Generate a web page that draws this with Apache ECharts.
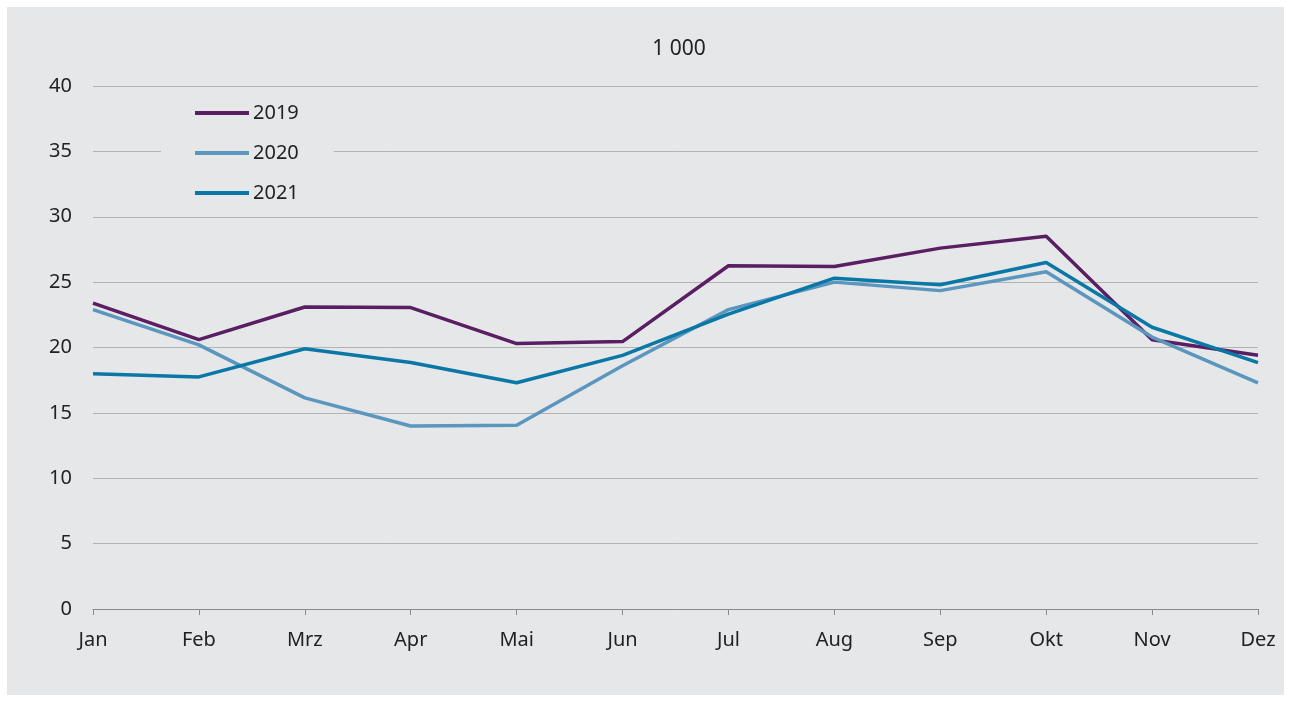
<!DOCTYPE html>
<html>
<head>
<meta charset="utf-8">
<script src="https://cdn.jsdelivr.net/npm/echarts@6/dist/echarts.min.js"></script>
<style>
  html, body { margin: 0; padding: 0; background: #fff; }
  #chart { position: absolute; left: 7px; top: 7px; width: 1277px; height: 688px; background: #e6e7e9; }
</style>
</head>
<body>
<div id="chart"></div>
<script>
var months = ['Jan', 'Feb', 'Mrz', 'Apr', 'Mai', 'Jun', 'Jul', 'Aug', 'Sep', 'Okt', 'Nov', 'Dez'];
var v2019 = [23.4, 20.6, 23.1, 23.05, 20.3, 20.45, 26.25, 26.2, 27.6, 28.5, 20.6, 19.4];
var v2020 = [22.9, 20.2, 16.15, 14.0, 14.05, 18.6, 22.9, 25.0, 24.35, 25.8, 20.8, 17.3];
var v2021 = [18.0, 17.75, 19.9, 18.85, 17.3, 19.4, 22.55, 25.3, 24.8, 26.5, 21.55, 18.85];

var font = '"Noto Sans", sans-serif';
var myChart = echarts.init(document.getElementById('chart'));

function line(name, data, color) {
  return {
    name: name,
    type: 'line',
    data: data,
    symbol: 'none',
    color: color,
    lineStyle: { width: 3.5, color: color },
    animation: false
  };
}

myChart.setOption({
  backgroundColor: '#e6e7e9',
  title: {
    text: '1 000',
    left: 667,
    textAlign: 'center',
    top: 27,
    textStyle: { fontFamily: font, fontSize: 21, fontWeight: 'normal', color: '#222' }
  },
  legend: {
    orient: 'vertical',
    left: 154,
    top: 90,
    backgroundColor: '#e6e7e9',
    padding: [6, 35, 6, 34],
    itemWidth: 54,
    itemHeight: 4,
    itemGap: 20,
    icon: 'rect',
    textStyle: { fontFamily: font, fontSize: 20, color: '#222', padding: [0, 0, 0, -1] },
    data: ['2019', '2020', '2021']
  },
  grid: { left: 86, right: 26, top: 79, bottom: 86 },
  xAxis: {
    type: 'category',
    data: months,
    boundaryGap: false,
    axisLine: { lineStyle: { color: '#8a8a8a', width: 1 } },
    axisTick: { show: true, length: 6, lineStyle: { color: '#8a8a8a' } },
    axisLabel: { fontFamily: font, fontSize: 20, color: '#222', margin: 21 }
  },
  yAxis: {
    type: 'value',
    min: 0,
    max: 40,
    interval: 5,
    axisLine: { show: false },
    axisTick: { show: false },
    splitLine: { lineStyle: { color: '#b3b3b3', width: 1 } },
    axisLabel: { fontFamily: font, fontSize: 20, color: '#222', margin: 21 }
  },
  series: [
    line('2019', v2019, '#5a1f63'),
    line('2020', v2020, '#5b96bf'),
    line('2021', v2021, '#0a78a6')
  ]
});
</script>
</body>
</html>
